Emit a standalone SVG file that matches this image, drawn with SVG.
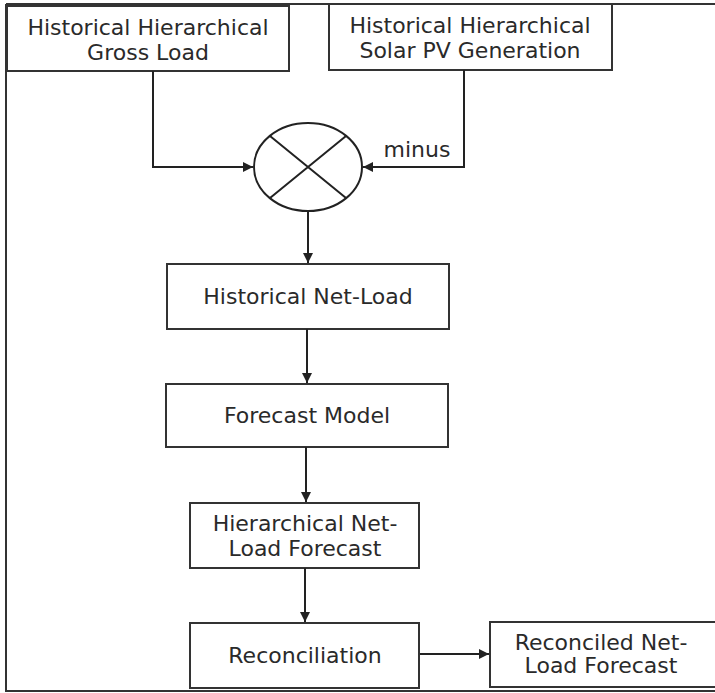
<svg xmlns="http://www.w3.org/2000/svg" width="715" height="693" viewBox="0 0 715 693">
<defs>
<style>
.box{fill:#fff;stroke:#333;stroke-width:2}
.frame{fill:none;stroke:#333;stroke-width:2}
.t{font-family:"DejaVu Sans","Verdana",sans-serif;font-size:22px;fill:#2a2a2a;text-anchor:middle}
.c{fill:none;stroke:#222;stroke-width:2}
</style>
<marker id="ah" viewBox="0 0 10 10" refX="10" refY="5" markerWidth="5" markerHeight="5" orient="auto" markerUnits="strokeWidth">
<path d="M0,0 L10,5 L0,10 z" fill="#222"/>
</marker>
</defs>
<rect width="715" height="693" fill="#fff"/>
<path class="frame" d="M6,4 H715 M6,4 V691 H715"/>
<g id="gross">
<rect class="box" x="7" y="6" width="282" height="65"/>
<text class="t" x="148" y="35">Historical Hierarchical</text>
<text class="t" x="148" y="60">Gross Load</text>
</g>
<g id="solar">
<rect class="box" x="329" y="4" width="283" height="66"/>
<text class="t" x="470" y="33">Historical Hierarchical</text>
<text class="t" x="470" y="58">Solar PV Generation</text>
</g>
<g id="minus-op">
<ellipse cx="308" cy="167" rx="54" ry="44" fill="#fff" stroke="#222" stroke-width="2"/>
<path d="M270,136 L346,198 M346,136 L270,198" stroke="#222" stroke-width="2"/>
</g>
<g id="netload">
<rect class="box" x="167" y="264" width="282" height="65"/>
<text class="t" x="308" y="304">Historical Net-Load</text>
</g>
<g id="model">
<rect class="box" x="166" y="384" width="282" height="63"/>
<text class="t" x="307" y="423">Forecast Model</text>
</g>
<g id="hier">
<rect class="box" x="190" y="503" width="229" height="65"/>
<text class="t" x="305" y="531">Hierarchical Net-</text>
<text class="t" x="305" y="556">Load Forecast</text>
</g>
<g id="recon">
<rect class="box" x="190" y="623" width="229" height="65"/>
<text class="t" x="305" y="663">Reconciliation</text>
</g>
<g id="reconciled">
<rect class="box" x="490" y="622" width="240" height="65"/>
<text class="t" x="601" y="650">Reconciled Net-</text>
<text class="t" x="601" y="673">Load Forecast</text>
</g>
<g id="connectors">
<path class="c" d="M153,71 V167 H253" marker-end="url(#ah)"/>
<path class="c" d="M464,70 V167 H363" marker-end="url(#ah)"/>
<text class="t" x="417" y="157">minus</text>
<path class="c" d="M308,211 V263" marker-end="url(#ah)"/>
<path class="c" d="M307,329 V383" marker-end="url(#ah)"/>
<path class="c" d="M306,447 V502" marker-end="url(#ah)"/>
<path class="c" d="M305,568 V622" marker-end="url(#ah)"/>
<path class="c" d="M420,654 H489" marker-end="url(#ah)"/>
</g>
</svg>
